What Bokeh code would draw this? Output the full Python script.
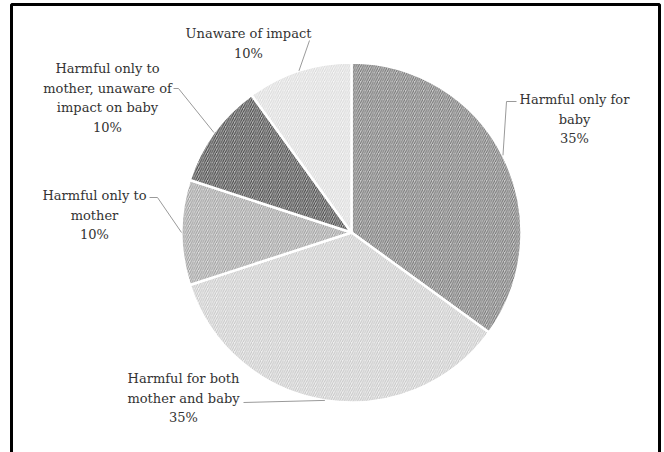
import numpy as np
from bokeh.plotting import figure
from bokeh.models import ColumnDataSource, Range1d
from bokeh.core.properties import value
from bokeh.embed import file_html
from bokeh.resources import INLINE

# ---- data ----
categories = [
    "Harmful only for baby",
    "Harmful for both mother and baby",
    "Harmful only to mother",
    "Harmful only to mother, unaware of impact on baby",
    "Unaware of impact",
]
values = [35, 35, 10, 10, 10]
label_lines = [
    ["Harmful only for", "baby"],
    ["Harmful for both", "mother and baby"],
    ["Harmful only to", "mother"],
    ["Harmful only to", "mother, unaware of", "impact on baby"],
    ["Unaware of impact"],
]

# ---- styles / layout ----
fill_colors = ["#cbcbcb", "#f0f0f0", "#dedede", "#b8b8b8", "#f6f6f6"]
hatch_colors = ["#707070", "#c4c4c4", "#9a9a9a", "#404040", "#d8d8d8"]
# label block position: (center x, first line y) in screen pixels (y down)
label_pos = [(574, 99), (183, 378), (94, 195), (107, 68), (248, 33)]
# leader line start points near labels (screen pixels)
leader_start = [[(516, 101), (506, 101)], [(243, 402)], [(149, 197), (157, 197)],
                [(173, 88), (178, 88)], [(309, 40)]]
LINE_H = 19.5

W, H = 664, 452
cx, cy_pix, r = 351, 232, 170
cy = H - cy_pix

p = figure(width=W, height=H, x_range=Range1d(0, W), y_range=Range1d(0, H),
           output_backend="svg", toolbar_location=None, min_border=0)
p.axis.visible = False
p.grid.visible = False
p.outline_line_color = None
p.background_fill_color = "white"

frac = np.array(values, dtype=float) / sum(values)
cum = np.concatenate([[0.0], np.cumsum(frac)])
start = np.pi / 2 - cum[1:] * 2 * np.pi
end = np.pi / 2 - cum[:-1] * 2 * np.pi
mid = (start + end) / 2

src = ColumnDataSource(dict(start=start, end=end, fill=fill_colors, hatch=hatch_colors,
                            cat=categories, val=values))
p.wedge(x=cx, y=cy, radius=r, radius_units="screen", start_angle="start", end_angle="end",
        fill_color="fill", hatch_pattern="/", hatch_color="hatch", hatch_scale=4.5,
        hatch_weight=1.0, line_color="white", line_width=2.5, source=src)

# leader lines: from label to the middle of each slice's arc
for i in range(len(values)):
    pts = leader_start[i]
    xs = [pt[0] for pt in pts] + [cx + r * np.cos(mid[i])]
    ys = [H - pt[1] for pt in pts] + [cy + r * np.sin(mid[i])]
    p.line(xs, ys, line_color="#9a9a9a", line_width=1)

# labels
tx, ty, tt = [], [], []
for i, lines in enumerate(label_lines):
    allines = lines + [f"{values[i]}%"]
    x0, y0 = label_pos[i]
    for k, s in enumerate(allines):
        tx.append(x0)
        ty.append(H - (y0 + k * LINE_H))
        tt.append(s)
p.text(x=tx, y=ty, text=tt, text_align="center", text_baseline="middle",
       text_font=value("DejaVu Serif"), text_font_size="13px", text_color="#333333")

# outer frame (left, top, right edges)
p.line([11, 11, 659, 659], [-10, H - 4, H - 4, -10], line_color="black", line_width=3)

open("out.html", "w").write(file_html(p, INLINE))
